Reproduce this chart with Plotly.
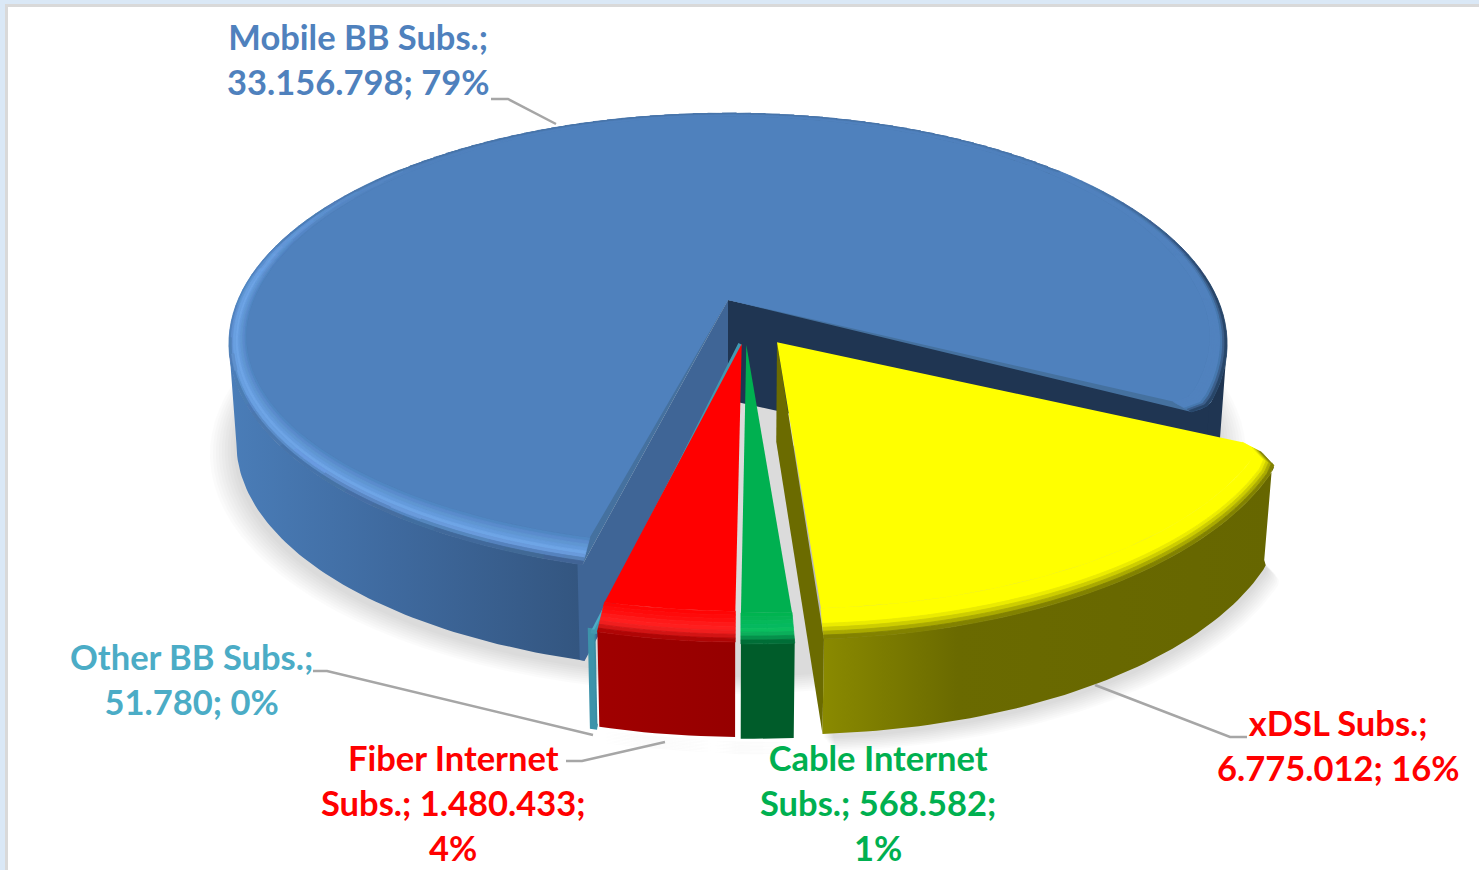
import math
import plotly.graph_objects as go

# ---------- data ----------
categories = ["xDSL Subs.", "Cable Internet Subs.", "Fiber Internet Subs.", "Other BB Subs.", "Mobile BB Subs."]
values = [6775012, 568582, 1480433, 51780, 33156798]
label_texts = [
    "xDSL Subs.;<br>6.775.012; 16%",
    "Cable Internet<br>Subs.; 568.582;<br>1%",
    "Fiber Internet<br>Subs.; 1.480.433;<br>4%",
    "Other BB Subs.;<br>51.780; 0%",
    "Mobile BB Subs.;<br>33.156.798; 79%",
]

# ---------- style / projection ----------
W, H = 1479, 870
CX, CY, RX, RY, P = 728, 300, 490, 222.5, 0.19
DEPTH, BOTTOM_SCALE = 100, 0.985
FIRST_ANGLE = 118.0   # clockwise from 12 o'clock
OFFSETS = [(0.0965, -0.183), (0.036, -0.195), (0.027, -0.19), (0.024, -0.19), (0.0, 0.0)]
SPAN_PAD = [(-2.0, 0.8), (0, 0), (0, 0), (0, 0), (0, 0)]
ROUND_START = [True, False, False, False, False]
ROUND_END = [False, False, False, False, True]
ROUND_AMOUNT = [0.035, 0, 0, 0, 0.022]
MAIN = ["#FFFF00", "#00B050", "#FF0000", "#4BACC6", "#4F81BD"]
HILITE = ["#FFFF00", "#0ABF62", "#FF2020", "#55C0DC", "#6FA6EA"]
RIM = ["#6A6A00", "#005C2A", "#990000", "#3A8CA3", "#45719F"]
LABEL_COL = ["#FF0000", "#00B050", "#FF0000", "#4BACC6", "#4F81BD"]
LABEL_POS = [(1338, 745), (878, 802), (453, 802), (191, 679), (358, 59)]
WALL_GRAD = [
    [[0, "#8A8A00"], [0.3, "#6A6A00"], [1, "#666600"]],
    [[0, "#005C2A"], [1, "#005C2A"]],
    [[0, "#A00000"], [1, "#960000"]],
    [[0, "#3D93AA"], [1, "#3D93AA"]],
    [[0, "#4A7DB8"], [0.45, "#3F6A9F"], [1, "#33557F"]],
]
NAVY, BLUE_CUT, OLIVE = "#1F3552", "#3F6596", "#6B6B00"
LEFT_EXTREME, RIGHT_EXTREME = 259.0, 101.0  # where the projected rim turns back


def hx(c):
    return tuple(int(c[i:i + 2], 16) for i in (1, 3, 5))


def mix(a, b, t):
    t = max(0.0, min(1.0, t))
    return tuple(a[i] + (b[i] - a[i]) * t for i in range(3))


def to_hex(c, q=5):
    return "#%02X%02X%02X" % tuple(min(255, int(round(v / q) * q)) for v in c)


def project(X, Y, low=False):
    w = 1 + P * Y
    dx, dy = RX * X / w, -RY * Y / w
    if low:
        return CX + dx * BOTTOM_SCALE, CY + dy * BOTTOM_SCALE + DEPTH
    return CX + dx, CY + dy


def rim_factor(i, theta, a0, a1, round_deg=3.0):
    d = None
    if ROUND_START[i]:
        d = theta - a0
    if ROUND_END[i]:
        d = a1 - theta
    if d is None or d >= round_deg:
        return 1.0
    return 1 - ROUND_AMOUNT[i] * (1 - d / round_deg) ** 2


def rim_point(i, theta, ring=0.0, low=False, a0=None, a1=None):
    ox, oy = OFFSETS[i]
    r = rim_factor(i, theta, a0, a1) if a0 is not None else 1.0
    th = math.radians(theta)
    c = math.cos(th)
    u = math.sin(th) * r * (1 - 0.032 * ring)
    v = c * r * (1 - (0.085 if c < 0 else 0.02) * ring)
    return project(ox + u, oy + v, low)


def arc(i, a0, a1, low=False, ring=0.0, bounds=None):
    n = max(2, int(abs(a1 - a0) / 1.0) + 1)
    pts = [a0 + (a1 - a0) * k / (n - 1) for k in range(n)]
    lo, hi = bounds if bounds else spans[i]
    return [rim_point(i, t, ring, low, lo, hi) for t in pts]


traces = []


def poly(pts, color=None, grad=None, line=0.0, line_color=None):
    kw = dict(x=[p[0] for p in pts], y=[p[1] for p in pts], mode="lines", fill="toself",
              hoverinfo="skip", showlegend=False,
              line=dict(width=line, color=line_color or color or "rgba(0,0,0,0)"))
    if grad is not None:
        xs = [p[0] for p in pts]
        kw["fillgradient"] = dict(type="horizontal", colorscale=grad, start=min(xs), stop=max(xs))
    else:
        kw["fillcolor"] = color
    traces.append(go.Scatter(**kw))


def bevel(i, a0, a1):
    rings, step = 8, 2.0
    main = hx(MAIN[i])
    buckets = {}
    n = max(1, int((a1 - a0) / step))
    for rr in range(rings):
        t = (rr + 0.5) / rings     # 0 at the flat top, 1 at the rim
        for k in range(n):
            t0, t1 = a0 + (a1 - a0) * k / n, a0 + (a1 - a0) * (k + 1) / n
            mid = ((t0 + t1) / 2) % 360
            hl = 1.0
            rim = hx(RIM[i])
            if i == 4:
                if 195 <= mid <= 275:
                    hl = 1.0
                    rim = mix(hx("#33557F"), hx("#4A7DB8"), (mid - 195) / 75)
                elif 275 < mid < 315:
                    hl = 1 - (mid - 275) / 40
                    rim = mix(hx("#4A7DB8"), mix(main, hx(NAVY), 0.25), (mid - 275) / 40)
                else:
                    hl = 0.0
                    if 50 < mid <= 125:
                        rim = mix(main, hx(NAVY), min(1, (mid - 50) / 35))
                    else:
                        rim = mix(main, hx(NAVY), 0.25)
            top = mix(main, hx(HILITE[i]), hl)
            knee = 0.45 if i == 0 else 0.6
            if t < knee:
                c = mix(main, top, t / knee)
            else:
                c = mix(top, rim, ((t - knee) / (1 - knee)) ** 1.3)
            key = to_hex(c)
            ring_out, ring_in = 1 - rr / rings, 1 - (rr + 1) / rings
            quad = [rim_point(i, t0, ring_out, False, a0, a1), rim_point(i, t1, ring_out, False, a0, a1),
                    rim_point(i, t1, ring_in, False, a0, a1), rim_point(i, t0, ring_in, False, a0, a1)]
            xs, ys = buckets.setdefault(key, ([], []))
            xs += [q[0] for q in quad] + [quad[0][0], None]
            ys += [q[1] for q in quad] + [quad[0][1], None]
    for key, (xs, ys) in buckets.items():
        traces.append(go.Scatter(x=xs, y=ys, mode="lines", fill="toself", fillcolor=key,
                                 line=dict(width=0.8, color=key), hoverinfo="skip", showlegend=False))


# ---------- angles from the values ----------
total = sum(values)
spans = []
a = FIRST_ANGLE
for v, pad in zip(values, SPAN_PAD):
    spans.append((a + pad[0], a + v / total * 360 + pad[1]))
    a += v / total * 360

# ---------- soft shadow ----------
for k in range(9, 0, -1):
    g = 1 + 0.006 * k
    ring = [(CX + (x - CX) * g, CY + 30 + (y - CY - 30) * g + 5) for x, y in
            [project(math.sin(math.radians(t)), math.cos(math.radians(t)), True) for t in range(0, 360, 3)]]
    poly(ring, "rgba(0,0,0,0.016)")
    yx = spans[0]
    ring = [(x + k * 1.5, y + k * 1.6 + 3) for x, y in arc(0, yx[0], yx[1], True)] + [project(OFFSETS[0][0], OFFSETS[0][1], True)]
    poly(ring, "rgba(0,0,0,0.014)")
    gap = [(x, y + k * 1.4 + 3) for x, y in arc(2, spans[2][0], spans[2][1], True)] + [(x, y + k * 1.4 + 3) for x, y in arc(1, spans[1][1], spans[1][0], True)]
    poly(gap, "rgba(0,0,0,0.016)")

# ---------- Mobile (exploded backwards) ----------
i = 4
m0, m1 = spans[i]
right_end = 360 + RIGHT_EXTREME
apex_top, apex_low = project(0, 0), project(0, 0, True)
# dark cut face on the right side
right_top = arc(i, m1 - 2, right_end)
right_low = arc(i, right_end, m1 - 2, True)
poly(right_top + right_low, NAVY)
poly([apex_top] + arc(i, m1 - 2, m1 - 2.5) + arc(i, m1 - 2.5, m1 - 2, True) + [apex_low], NAVY)
# outer wall
wall_top = arc(i, m0, LEFT_EXTREME)
wall_low = arc(i, LEFT_EXTREME, m0, True)
poly(wall_top + wall_low, grad=WALL_GRAD[4])
# left cut face
poly([apex_top] + arc(i, m0, m0 + 0.5) + arc(i, m0 + 0.5, m0, True) + [apex_low], BLUE_CUT)
# top
poly([apex_top] + arc(i, m0, m1), RIM[i], line=0)
bevel(i, m0, m1)
poly([apex_top] + arc(i, m0, m1, ring=1.0), MAIN[i])

# ---------- other slices ----------
for i in (3, 2, 1, 0):
    s0, s1 = spans[i]
    ox, oy = OFFSETS[i]
    ap, ap_low = project(ox, oy), project(ox, oy, True)
    if i == 0:
        poly([ap, rim_point(i, s1, 0, False, s0, s1), rim_point(i, s1, 0, True, s0, s1), ap_low], OLIVE)
    if i == 3:
        poly(arc(i, s0, s1) + arc(i, s1, s0, True), RIM[i], line=6, line_color="#3D93AA")
        poly([ap] + arc(i, s0, s1), MAIN[i], line=4, line_color="#4398B0")
        continue
    w0 = s0 + 1.5 if ROUND_START[i] else s0
    poly(arc(i, w0, s1) + arc(i, s1, w0, True), grad=WALL_GRAD[i])
    bevel(i, s0, s1)
    poly([ap] + arc(i, s0, s1, ring=1.0), MAIN[i])

# ---------- page frame & leader lines ----------
shapes = [
    dict(type="rect", x0=5, y0=4, x1=W, y1=H, fillcolor="#D9D9D9", line_width=0, layer="below"),
    dict(type="rect", x0=8, y0=7, x1=W, y1=H, fillcolor="#FFFFFF", line_width=0, layer="below"),
]
for path in ["M491,99 L508,99 L556,124", "M313,671 L327,671 L593,735",
             "M566,761 L582,761 L665,742", "M1095,685 L1230,737 L1247,737"]:
    shapes.append(dict(type="path", path=path, line=dict(color="#A6A6A6", width=2.5), layer="above"))

annotations = [
    dict(x=p[0], y=p[1], text=t, showarrow=False, xanchor="center", yanchor="middle", align="center",
         font=dict(family="Lato", size=34.5, color=c, weight="bold"))
    for t, p, c in zip(label_texts, LABEL_POS, LABEL_COL)
]

fig = go.Figure(traces)
fig.update_layout(
    width=W, height=H, margin=dict(l=0, r=0, t=0, b=0), autosize=False,
    paper_bgcolor="#DAE8F6", plot_bgcolor="rgba(0,0,0,0)", showlegend=False,
    xaxis=dict(range=[0, W], visible=False, fixedrange=True),
    yaxis=dict(range=[H, 0], visible=False, fixedrange=True),
    shapes=shapes, annotations=annotations,
)
fig.write_html("out.html", config={"displayModeBar": False},
               post_script="document.body.style.margin='0';document.body.style.overflow='hidden';")
